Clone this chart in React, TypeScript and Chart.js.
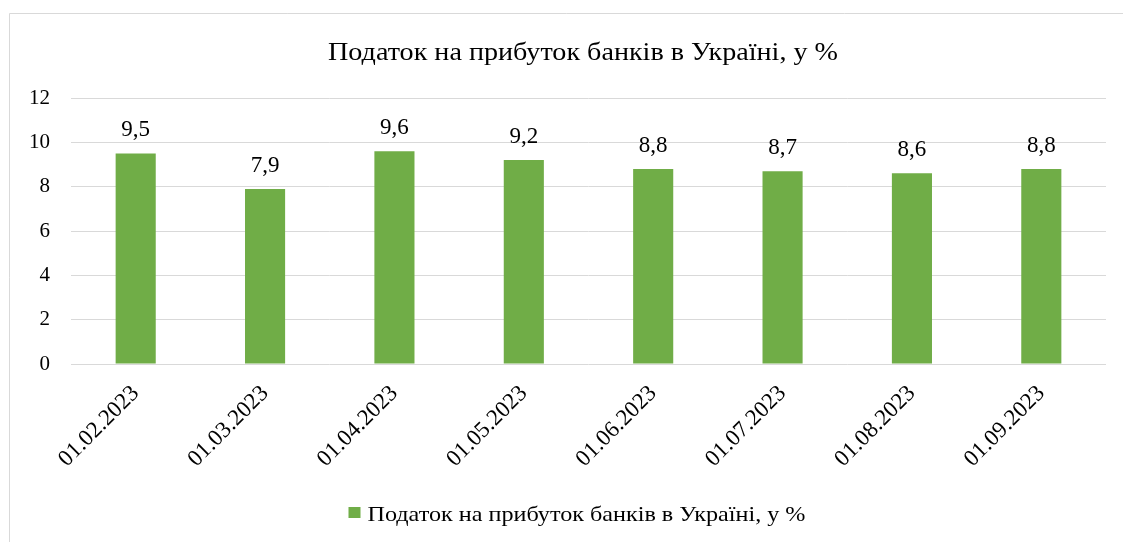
import React, { useEffect, useRef } from "react";
import { Chart, registerables } from "chart.js";

Chart.register(...registerables);

const categories = [
  "01.02.2023",
  "01.03.2023",
  "01.04.2023",
  "01.05.2023",
  "01.06.2023",
  "01.07.2023",
  "01.08.2023",
  "01.09.2023",
];
const values = [9.5, 7.9, 9.6, 9.2, 8.8, 8.7, 8.6, 8.8];
const yMin = 0;
const yMax = 12;
const yStep = 2;
const seriesName = "Податок на прибуток банків в Україні, у %";
const titleText = "Податок на прибуток банків в Україні, у %";

const FONT = "'Liberation Serif', 'Times New Roman', serif";
const GREEN = "#70AD47";
const GRID = "#d9d9d9";

const fmt = (v: number) => v.toFixed(1).replace(".", ",");

// draws text stretched horizontally to a target width
function stretchedText(ctx: any, text: string, x: number, y: number, targetW: number) {
  const w = ctx.measureText(text).width;
  const sx = targetW / w;
  ctx.save();
  ctx.translate(x, y);
  ctx.scale(sx, 1);
  ctx.fillText(text, 0, 0);
  ctx.restore();
}

const decor = {
  id: "decor",
  beforeDraw(chart: any) {
    const ctx = chart.ctx;
    ctx.save();
    ctx.fillStyle = "#ffffff";
    ctx.fillRect(0, 0, chart.width, chart.height);
    ctx.strokeStyle = GRID;
    ctx.lineWidth = 1;
    ctx.beginPath();
    ctx.moveTo(9.5, chart.height);
    ctx.lineTo(9.5, 13.5);
    ctx.lineTo(chart.width, 13.5);
    ctx.stroke();
    ctx.restore();
  },
  afterDraw(chart: any) {
    const ctx = chart.ctx;
    ctx.save();
    ctx.fillStyle = "#000000";
    // title
    ctx.font = `26px ${FONT}`;
    ctx.textAlign = "center";
    ctx.textBaseline = "alphabetic";
    stretchedText(ctx, titleText, 583, 59.5, 510);
    // data labels
    ctx.font = `23px ${FONT}`;
    const meta = chart.getDatasetMeta(0);
    meta.data.forEach((bar: any, i: number) => {
      ctx.fillText(fmt(values[i]), bar.x, bar.y - 17);
    });
    // legend
    ctx.font = `22px ${FONT}`;
    const textW = 438;
    const box = 12;
    const gap = 7;
    const total = box + gap + textW;
    const x0 = 577 - total / 2;
    ctx.fillStyle = GREEN;
    ctx.fillRect(x0, 507, box, 11);
    ctx.fillStyle = "#000000";
    ctx.textAlign = "left";
    stretchedText(ctx, seriesName, x0 + box + gap, 520.5, textW);
    ctx.restore();
  },
};

export default function App() {
  const ref = useRef<HTMLCanvasElement | null>(null);
  useEffect(() => {
    if (!ref.current) return;
    const chart = new Chart(ref.current, {
      type: "bar",
      data: {
        labels: categories,
        datasets: [
          {
            label: seriesName,
            data: values,
            backgroundColor: GREEN,
            borderWidth: 0,
            barPercentage: 0.31,
            categoryPercentage: 1,
          },
        ],
      },
      options: {
        animation: false,
        responsive: false,
        maintainAspectRatio: false,
        layout: { padding: { top: 98, right: 17, left: 0, bottom: 0 } },
        plugins: {
          legend: { display: false },
          title: { display: false },
          tooltip: { enabled: false },
        },
        scales: {
          x: {
            grid: { display: false },
            border: { display: false },
            ticks: {
              font: { family: FONT, size: 23 },
              color: "#000000",
              minRotation: 45,
              maxRotation: 45,
              padding: 8,
            },
            afterFit: (s: any) => {
              s.height = 542 - 364;
            },
          },
          y: {
            min: yMin,
            max: yMax,
            grid: { color: GRID, drawTicks: false, lineWidth: 1 },
            border: { display: false },
            ticks: {
              stepSize: yStep,
              font: { family: FONT, size: 21 },
              color: "#000000",
              padding: 21,
            },
            afterFit: (s: any) => {
              s.width = 71;
            },
          },
        },
      },
      plugins: [decor],
    });
    return () => chart.destroy();
  }, []);
  return (
    <div style={{ position: "fixed", left: 0, top: 0, width: 1123, height: 542 }}>
      <canvas ref={ref} width={1123} height={542} style={{ display: "block" }} />
    </div>
  );
}
